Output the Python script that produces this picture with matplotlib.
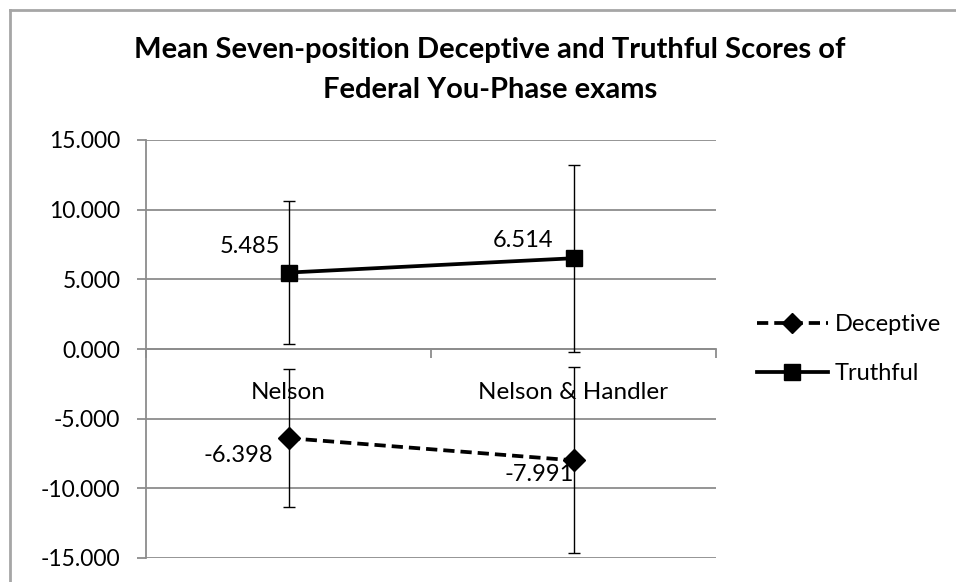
import matplotlib
matplotlib.use("Agg")
from matplotlib import pyplot as plt
from matplotlib.lines import Line2D

categories = ["Nelson", "Nelson & Handler"]
deceptive = [-6.398, -7.991]
deceptive_err = [4.96, 6.68]
truthful = [5.485, 6.514]
truthful_err = [5.13, 6.70]
y_ticks = [-15, -10, -5, 0, 5, 10, 15]

plt.rcParams['font.family'] = ['Lato', 'DejaVu Sans']

fig = plt.figure(figsize=(9.56, 5.82), dpi=100)
# chart frame: only left and top edges are visible in the crop
fig.add_artist(Line2D([10 / 956, 10 / 956], [0, 1 - 10 / 582], transform=fig.transFigure,
                      color='#a6a6a6', linewidth=2))
fig.add_artist(Line2D([10 / 956, 1], [1 - 10 / 582, 1 - 10 / 582], transform=fig.transFigure,
                      color='#a6a6a6', linewidth=2))

ax = fig.add_axes([146 / 956, 24 / 582, 570 / 956, 418 / 582])
x = [0.5, 1.5]

ax.errorbar(x, deceptive, yerr=deceptive_err, fmt='none', ecolor='black', elinewidth=1,
            capsize=4.5, capthick=1, zorder=3)
ax.errorbar(x, truthful, yerr=truthful_err, fmt='none', ecolor='black', elinewidth=1,
            capsize=4.5, capthick=1, zorder=3)
ax.plot(x, deceptive, color='black', linewidth=2.7, linestyle=(0, (3, 1.6)),
        marker='D', markersize=11, zorder=4, label='Deceptive')
ax.plot(x, truthful, color='black', linewidth=2.7, marker='s', markersize=11,
        zorder=4, label='Truthful')

# data labels
lab_fs = 17
ax.annotate(f"{truthful[0]:.3f}", (x[0], truthful[0]), xytext=(-39, 26), textcoords='offset pixels',
            ha='center', va='center', fontsize=lab_fs)
ax.annotate(f"{truthful[1]:.3f}", (x[1], truthful[1]), xytext=(-50, 18), textcoords='offset pixels',
            ha='center', va='center', fontsize=lab_fs)
ax.annotate(f"{deceptive[0]:.3f}", (x[0], deceptive[0]), xytext=(-50, -17), textcoords='offset pixels',
            ha='center', va='center', fontsize=lab_fs)
ax.annotate(f"{deceptive[1]:.3f}", (x[1], deceptive[1]), xytext=(-34, -14), textcoords='offset pixels',
            ha='center', va='center', fontsize=lab_fs)

ax.set_xlim(0, 2)
ax.set_ylim(-15, 15)
ax.set_yticks(y_ticks)
ax.set_yticklabels([f"{v:.3f}" for v in y_ticks])
ax.yaxis.grid(True, color='#8c8c8c', linewidth=1.3)
ax.set_axisbelow(True)
ax.set_xticks(x, categories)
ax.set_xticks([0, 1, 2], minor=True)
ax.tick_params(axis='x', which='major', length=0, pad=24, labelsize=17.5)
ax.tick_params(axis='x', which='minor', length=6.5, color='#8c8c8c', width=1.3)
ax.tick_params(axis='y', length=6.5, color='#8c8c8c', width=1.3, pad=12, labelsize=16.5)

for s in ['top', 'right']:
    ax.spines[s].set_visible(False)
ax.spines['bottom'].set_position(('data', 0))
ax.spines['left'].set_color('#8c8c8c')
ax.spines['bottom'].set_color('#8c8c8c')
ax.spines['left'].set_linewidth(1.3)
ax.spines['bottom'].set_linewidth(1.3)

fig.text(490 / 956, 1 - 50 / 582, "Mean Seven-position Deceptive and Truthful Scores of",
         ha='center', va='center', fontsize=21, fontweight='bold')
fig.text(490 / 956, 1 - 90 / 582, "Federal You-Phase exams",
         ha='center', va='center', fontsize=21, fontweight='bold')

handles = [Line2D([], [], color='black', linewidth=2.7, linestyle=(0, (3, 1.6)), marker='D', markersize=10),
           Line2D([], [], color='black', linewidth=2.7, marker='s', markersize=11)]
fig.legend(handles, ["Deceptive", "Truthful"], loc='center left',
           bbox_to_anchor=(757 / 956, 1 - 349 / 582), frameon=False, fontsize=17,
           handlelength=3.0, handletextpad=0.3, labelspacing=1.2, borderpad=0,
           borderaxespad=0)

fig.savefig("out.png", dpi=100)
